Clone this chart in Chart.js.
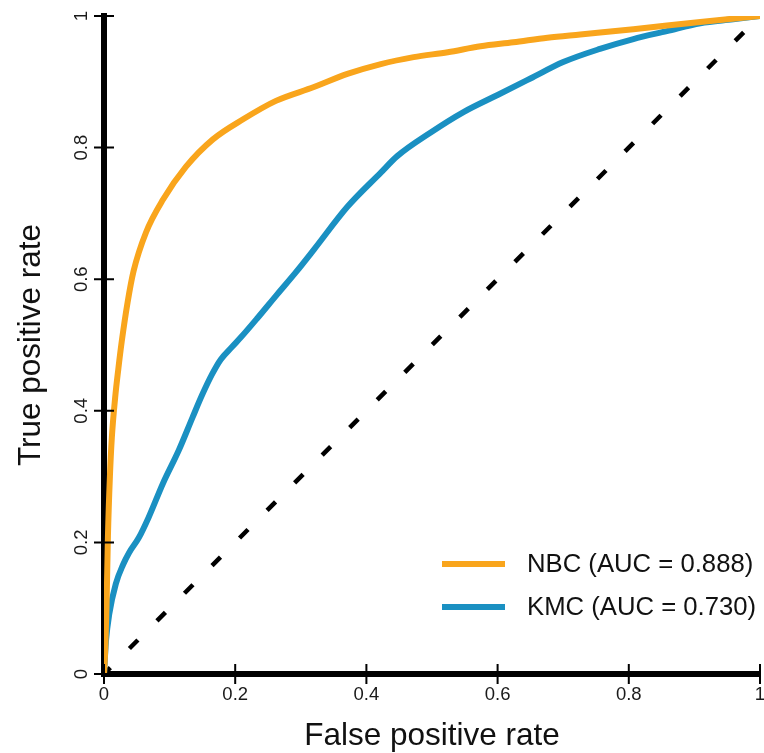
<!DOCTYPE html>
<html>
<head>
<meta charset="utf-8">
<script src="https://cdn.jsdelivr.net/npm/chart.js@4/dist/chart.umd.min.js"></script>
<style>
  html, body { margin: 0; padding: 0; background: #ffffff; }
  #wrap { width: 764px; height: 753px; position: relative; }
</style>
</head>
<body>
<div id="wrap"><canvas id="c" width="764" height="753"></canvas></div>
<script>
// ---- data ----
const seriesNames = ['NBC (AUC = 0.888)', 'KMC (AUC = 0.730)'];

const nbcFpr = [0, 0.002, 0.004, 0.006, 0.009, 0.012, 0.017, 0.022, 0.027, 0.036, 0.045, 0.064, 0.090, 0.125, 0.166, 0.212, 0.262, 0.320, 0.371, 0.422, 0.472, 0.524, 0.574, 0.624, 0.676, 0.726, 0.807, 0.909, 1];
const nbcTpr = [0, 0.04, 0.11, 0.21, 0.30, 0.36, 0.42, 0.465, 0.505, 0.565, 0.612, 0.671, 0.721, 0.771, 0.8125, 0.843, 0.871, 0.892, 0.912, 0.927, 0.9375, 0.945, 0.954, 0.960, 0.967, 0.972, 0.980, 0.991, 1];

const kmcFpr = [0, 0.003, 0.008, 0.018, 0.029, 0.038, 0.053, 0.068, 0.090, 0.114, 0.135, 0.150, 0.165, 0.178, 0.195, 0.209, 0.234, 0.264, 0.292, 0.320, 0.371, 0.422, 0.447, 0.498, 0.548, 0.600, 0.650, 0.700, 0.756, 0.807, 0.858, 0.909, 0.959, 1];
const kmcTpr = [0, 0.05, 0.091, 0.137, 0.166, 0.184, 0.207, 0.238, 0.290, 0.340, 0.390, 0.425, 0.456, 0.478, 0.497, 0.512, 0.541, 0.577, 0.610, 0.645, 0.710, 0.762, 0.787, 0.823, 0.854, 0.880, 0.905, 0.930, 0.950, 0.965, 0.977, 0.989, 0.995, 1];

const chanceFpr = [0, 1];
const chanceTpr = [0, 1];

const tickValues = [0, 0.2, 0.4, 0.6, 0.8, 1];
const tickLabels = ['0', '0.2', '0.4', '0.6', '0.8', '1'];

const xTitle = 'False positive rate';
const yTitle = 'True positive rate';

// ---- helpers ----
const toPts = (xs, ys) => xs.map((x, i) => ({ x: x, y: ys[i] }));
const FONT = "'Liberation Sans', Arial, Helvetica, sans-serif";
const ORANGE = '#F9A51C';
const BLUE = '#1A90C2';

const decor = {
  id: 'decor',
  afterDraw(chart) {
    const ctx = chart.ctx;
    const area = chart.chartArea;
    const xs = chart.scales.x, ys = chart.scales.y;
    ctx.save();
    // tick crosses on both axes
    ctx.strokeStyle = '#000';
    ctx.lineWidth = 2;
    ctx.beginPath();
    xs.ticks.forEach((t, i) => {
      const px = xs.getPixelForTick(i);
      ctx.moveTo(px, area.bottom - 10);
      ctx.lineTo(px, area.bottom + 10);
    });
    ys.ticks.forEach((t, i) => {
      const py = ys.getPixelForTick(i);
      ctx.moveTo(area.left - 10, py);
      ctx.lineTo(area.left + 10, py);
    });
    ctx.stroke();

    // legend inside lower right
    const rows = [0, 1];
    ctx.font = '25.7px ' + FONT;
    ctx.textBaseline = 'middle';
    ctx.textAlign = 'left';
    rows.forEach((di, r) => {
      const ds = chart.data.datasets[di];
      const y = area.bottom - 110 + r * 43;
      ctx.strokeStyle = ds.borderColor;
      ctx.lineWidth = 6;
      ctx.lineCap = 'butt';
      ctx.beginPath();
      ctx.moveTo(area.right - 318, y);
      ctx.lineTo(area.right - 255, y);
      ctx.stroke();
      ctx.fillStyle = '#111';
      ctx.fillText(ds.label, area.right - 233, y + 1);
    });
    ctx.restore();
  }
};

new Chart(document.getElementById('c'), {
  type: 'scatter',
  data: {
    datasets: [
      {
        label: seriesNames[0],
        data: toPts(nbcFpr, nbcTpr),
        showLine: true,
        borderColor: ORANGE,
        backgroundColor: ORANGE,
        borderWidth: 6,
        pointRadius: 0,
        cubicInterpolationMode: 'monotone'
      },
      {
        label: seriesNames[1],
        data: toPts(kmcFpr, kmcTpr),
        showLine: true,
        borderColor: BLUE,
        backgroundColor: BLUE,
        borderWidth: 6,
        pointRadius: 0,
        cubicInterpolationMode: 'monotone'
      },
      {
        label: 'chance',
        data: toPts(chanceFpr, chanceTpr),
        showLine: true,
        borderColor: '#000',
        borderWidth: 4.5,
        borderDash: [12, 27],
        borderDashOffset: 3,
        pointRadius: 0
      }
    ]
  },
  options: {
    responsive: false,
    animation: false,
    devicePixelRatio: 1,
    layout: { padding: { top: 16, right: 4, left: 0, bottom: 0 } },
    plugins: { legend: { display: false }, tooltip: { enabled: false } },
    scales: {
      x: {
        type: 'linear',
        min: 0, max: 1,
        z: 1,
        afterFit: (s) => { s.height = 79; s.paddingLeft = 0; s.paddingRight = 0; },
        afterBuildTicks: (s) => { s.ticks = tickValues.map(v => ({ value: v })); },
        grid: { display: false, drawTicks: false },
        border: { display: true, color: '#000', width: 6 },
        ticks: {
          padding: 10,
          color: '#1a1a1a',
          font: { family: FONT, size: 18.5 },
          callback: (v) => { const i = tickValues.indexOf(v); return i >= 0 ? tickLabels[i] : ''; }
        },
        title: {
          display: true,
          text: xTitle,
          color: '#111',
          font: { family: FONT, size: 31.5 },
          padding: { top: 0, bottom: -2 }
        }
      },
      y: {
        type: 'linear',
        min: 0, max: 1,
        z: 1,
        afterFit: (s) => { s.width = 104; s.paddingTop = 0; s.paddingBottom = 0; },
        afterBuildTicks: (s) => { s.ticks = tickValues.map(v => ({ value: v })); },
        grid: { display: false, drawTicks: false },
        border: { display: true, color: '#000', width: 6 },
        ticks: {
          padding: 9,
          minRotation: 90,
          maxRotation: 90,
          crossAlign: 'center',
          color: '#1a1a1a',
          font: { family: FONT, size: 18.5 },
          callback: (v) => { const i = tickValues.indexOf(v); return i >= 0 ? tickLabels[i] : ''; }
        },
        title: {
          display: true,
          text: yTitle,
          color: '#111',
          font: { family: FONT, size: 31.5 },
          padding: { top: 12, bottom: 0 }
        }
      }
    }
  },
  plugins: [decor]
});
</script>
</body>
</html>
